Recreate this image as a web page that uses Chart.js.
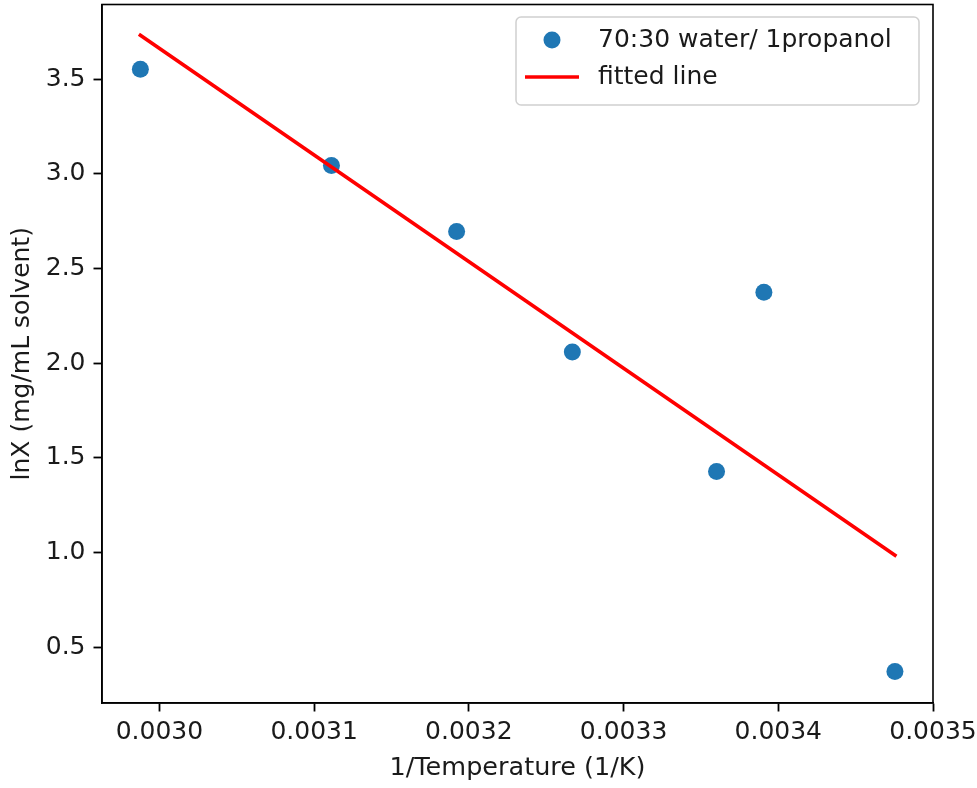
<!DOCTYPE html>
<html>
<head>
<meta charset="utf-8">
<script src="https://cdn.jsdelivr.net/npm/chart.js@4.4.1/dist/chart.umd.min.js"></script>
<style>
  html, body { margin: 0; padding: 0; background: #fff; }
  #wrap { width: 977px; height: 788px; position: relative; }
</style>
</head>
<body>
<div id="wrap"><canvas id="chart"></canvas></div>
<script>
// values
const invTemp = [0.0029877, 0.0031112, 0.0031921, 0.0032669, 0.0033601, 0.0033907, 0.0034754];
const lnX = [3.553, 3.044, 2.696, 2.059, 1.428, 2.375, 0.372];
// end points of the fitted line
const fitX = [0.0029877, 0.0034754];
const fitY = [3.732, 0.986];
const xTicks = [0.0030, 0.0031, 0.0032, 0.0033, 0.0034, 0.0035];
const yTicks = [0.5, 1.0, 1.5, 2.0, 2.5, 3.0, 3.5];
const seriesLabel = '70:30 water/ 1propanol';
const fitLabel = 'fitted line';

const FONT = 'DejaVu Sans';
const TEXT = '#1a1a1a';
const BLUE = '#1f77b4';
const RED = '#ff0000';

// frame on all four sides, like matplotlib spines
const framePlugin = {
  id: 'frame',
  afterDatasetsDraw(chart) {
    const a = chart.chartArea;
    const ctx = chart.ctx;
    ctx.save();
    ctx.strokeStyle = '#000';
    ctx.lineWidth = 1.6;
    ctx.strokeRect(a.left, a.top, a.right - a.left, a.bottom - a.top);
    ctx.restore();
  }
};

// boxed legend in the upper right corner
const legendPlugin = {
  id: 'boxLegend',
  afterDraw(chart) {
    const a = chart.chartArea;
    const ctx = chart.ctx;
    const right = a.right - 14;
    const top = a.top + 12.5;
    const w = 403, h = 88;
    const left = right - w;
    ctx.save();
    ctx.beginPath();
    ctx.roundRect(left, top, w, h, 5);
    ctx.fillStyle = 'rgba(255,255,255,0.8)';
    ctx.fill();
    ctx.strokeStyle = '#d0d0d0';
    ctx.lineWidth = 1.5;
    ctx.stroke();

    const row1 = top + 23, row2 = top + 60;
    ctx.beginPath();
    ctx.arc(left + 36, row1, 8.5, 0, Math.PI * 2);
    ctx.fillStyle = BLUE;
    ctx.fill();

    ctx.beginPath();
    ctx.moveTo(left + 9, row2);
    ctx.lineTo(left + 63, row2);
    ctx.strokeStyle = RED;
    ctx.lineWidth = 3.6;
    ctx.stroke();

    ctx.fillStyle = TEXT;
    ctx.font = '25px "' + FONT + '"';
    ctx.textBaseline = 'middle';
    ctx.textAlign = 'left';
    ctx.fillText(seriesLabel, left + 82, row1);
    ctx.fillText(fitLabel, left + 82, row2);
    ctx.restore();
  }
};

const ctx = document.getElementById('chart').getContext('2d');
new Chart(ctx, {
  type: 'scatter',
  data: {
    datasets: [
      {
        label: fitLabel,
        data: fitX.map((x, i) => ({ x: x, y: fitY[i] })),
        showLine: true,
        borderColor: RED,
        backgroundColor: RED,
        borderWidth: 3.6,
        borderCapStyle: 'square',
        pointRadius: 0,
        order: 0
      },
      {
        label: seriesLabel,
        data: invTemp.map((x, i) => ({ x: x, y: lnX[i] })),
        backgroundColor: BLUE,
        borderColor: BLUE,
        borderWidth: 0,
        pointRadius: 8.5,
        order: 1
      }
    ]
  },
  options: {
    responsive: true,
    maintainAspectRatio: false,
    animation: false,
    layout: { autoPadding: false, padding: { left: 0, right: 44, top: 4.5, bottom: 0 } },
    plugins: {
      legend: { display: false },
      tooltip: { enabled: false }
    },
    scales: {
      x: {
        type: 'linear',
        min: 0.0029629,
        max: 0.0035,
        afterBuildTicks: s => { s.ticks = xTicks.map(v => ({ value: v })); },
        afterFit: s => { s.height = 85; s.paddingLeft = 0; s.paddingRight = 0; },
        border: { display: true, color: '#000', width: 1.6 },
        grid: { drawOnChartArea: false, drawTicks: true, tickLength: 8.5, tickColor: '#000', tickWidth: 1.8 },
        ticks: {
          autoSkip: false,
          maxRotation: 0,
          padding: 6,
          color: TEXT,
          font: { family: FONT, size: 25 },
          callback: v => Number(v).toFixed(4)
        },
        title: {
          display: true,
          text: '1/Temperature (1/K)',
          color: TEXT,
          font: { family: FONT, size: 25.5 },
          padding: { top: 0, bottom: 4 }
        }
      },
      y: {
        type: 'linear',
        min: 0.205,
        max: 3.895,
        afterBuildTicks: s => { s.ticks = yTicks.map(v => ({ value: v })); },
        afterFit: s => { s.width = 102; s.paddingTop = 0; s.paddingBottom = 0; },
        border: { display: true, color: '#000', width: 1.6 },
        grid: { drawOnChartArea: false, drawTicks: true, tickLength: 8.5, tickColor: '#000', tickWidth: 1.8 },
        ticks: {
          autoSkip: false,
          padding: 8,
          color: TEXT,
          font: { family: FONT, size: 25 },
          callback: v => Number(v).toFixed(1)
        },
        title: {
          display: true,
          text: 'lnX (mg/mL solvent)',
          color: TEXT,
          font: { family: FONT, size: 25 },
          padding: { top: 7, bottom: 0 }
        }
      }
    }
  },
  plugins: [framePlugin, legendPlugin]
});
</script>
</body>
</html>
